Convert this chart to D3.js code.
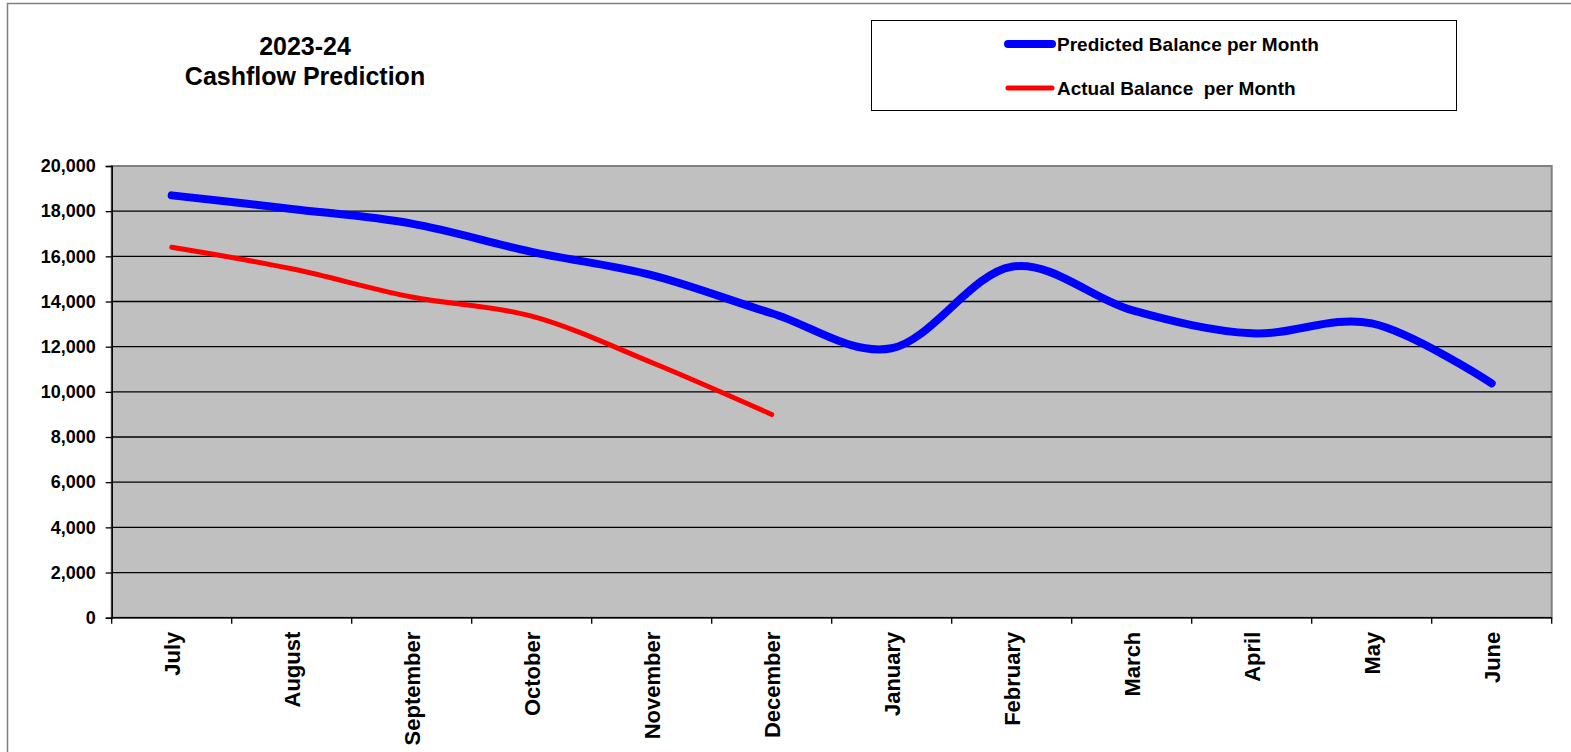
<!DOCTYPE html>
<html>
<head>
<meta charset="utf-8">
<script src="https://cdn.jsdelivr.net/npm/d3@7"></script>
<style>
  body { margin: 0; background: #fff; }
  svg { display: block; }
  text { font-family: "Liberation Sans", Arial, sans-serif; font-weight: bold; fill: #000; }
</style>
</head>
<body>
<svg id="chart" width="1571" height="752"></svg>
<script>
const months = ["July","August","September","October","November","December","January","February","March","April","May","June"];
const predicted = [18700, 18100, 17450, 16200, 15170, 13480, 11930, 15540, 13620, 12590, 13030, 10380];
const actual = [16400, 15450, 14200, 13350, 11300, 9000];
const yTicks = [0, 2000, 4000, 6000, 8000, 10000, 12000, 14000, 16000, 18000, 20000];
const titleLines = ["2023-24", "Cashflow Prediction"];
const seriesNames = ["Predicted Balance per Month", "Actual Balance  per Month"];

const svg = d3.select("#chart");
const W = 1571, H = 752;
const L = 111.7, R = 1551.7, T = 166, B = 617.7;

// outer chart border
svg.append("rect").attr("x", 7.5).attr("y", 3.5).attr("width", W + 20).attr("height", H + 20)
  .attr("fill", "#fff").attr("stroke", "#808080").attr("stroke-width", 1.5);

const x = d3.scaleBand().domain(months).range([L, R]);
const y = d3.scaleLinear().domain([0, 20000]).range([B, T]);

// plot area
svg.append("rect").attr("x", L).attr("y", T).attr("width", R - L).attr("height", B - T)
  .attr("fill", "#C0C0C0").attr("stroke", "#808080").attr("stroke-width", 2);

// gridlines
svg.append("g").selectAll("line").data(yTicks.filter(d => d > 0 && d < 20000)).join("line")
  .attr("x1", L).attr("x2", R).attr("y1", d => y(d)).attr("y2", d => y(d))
  .attr("stroke", "#000").attr("stroke-width", 1.3);

// y axis
const yAxis = svg.append("g").attr("transform", `translate(${L},0)`)
  .call(d3.axisLeft(y).tickValues(yTicks).tickFormat(d3.format(",")).tickSize(6).tickPadding(10));
yAxis.select(".domain").attr("stroke", "#000").attr("stroke-width", 1.5);
yAxis.selectAll(".tick line").attr("stroke", "#000").attr("stroke-width", 1.3);
yAxis.selectAll(".tick text").attr("font-size", 18).attr("font-family", "Liberation Sans, Arial, sans-serif")
  .attr("font-weight", "bold").attr("fill", "#000");

// x axis
const xAxis = svg.append("g").attr("transform", `translate(0,${B})`);
xAxis.append("line").attr("x1", L).attr("x2", R).attr("y1", 0).attr("y2", 0)
  .attr("stroke", "#000").attr("stroke-width", 1.5);
const bounds = months.map(m => x(m)).concat([x.range()[1]]);
xAxis.selectAll("line.tk").data(bounds).join("line").attr("class", "tk")
  .attr("x1", d => d).attr("x2", d => d).attr("y1", 0).attr("y2", 6)
  .attr("stroke", "#000").attr("stroke-width", 1.3);
xAxis.selectAll("text").data(months).join("text")
  .attr("transform", d => `translate(${x(d) + x.bandwidth() / 2},14) rotate(-90)`)
  .attr("text-anchor", "end").attr("dy", "0.36em")
  .attr("font-size", 22).text(d => d);

// lines
const line = d3.line()
  .x((d, i) => x(months[i]) + x.bandwidth() / 2)
  .y(d => y(d))
  .curve(d3.curveCardinal.tension(0));

svg.append("path").datum(predicted).attr("d", line)
  .attr("fill", "none").attr("stroke", "#0000FF").attr("stroke-width", 8)
  .attr("stroke-linecap", "round").attr("stroke-linejoin", "round");
svg.append("path").datum(actual).attr("d", line)
  .attr("fill", "none").attr("stroke", "#FF0000").attr("stroke-width", 5)
  .attr("stroke-linecap", "round").attr("stroke-linejoin", "round");

// title
svg.append("text").attr("x", 305).attr("y", 55).attr("text-anchor", "middle")
  .attr("font-size", 25).text(titleLines[0]);
svg.append("text").attr("x", 305).attr("y", 85).attr("text-anchor", "middle")
  .attr("font-size", 25).text(titleLines[1]);

// legend
const lg = svg.append("g");
lg.append("rect").attr("x", 871.5).attr("y", 20.5).attr("width", 585).attr("height", 90)
  .attr("fill", "#fff").attr("stroke", "#000").attr("stroke-width", 1);
const colors = ["#0000FF", "#FF0000"];
const widths = [8, 5];
[44, 88].forEach((yy, i) => {
  lg.append("line").attr("x1", 1008).attr("x2", 1052).attr("y1", yy).attr("y2", yy)
    .attr("stroke", colors[i]).attr("stroke-width", widths[i]).attr("stroke-linecap", "round");
  lg.append("text").attr("x", 1057).attr("y", yy + 7).attr("font-size", 19)
    .style("white-space", "pre").text(seriesNames[i]);
});
</script>
</body>
</html>
